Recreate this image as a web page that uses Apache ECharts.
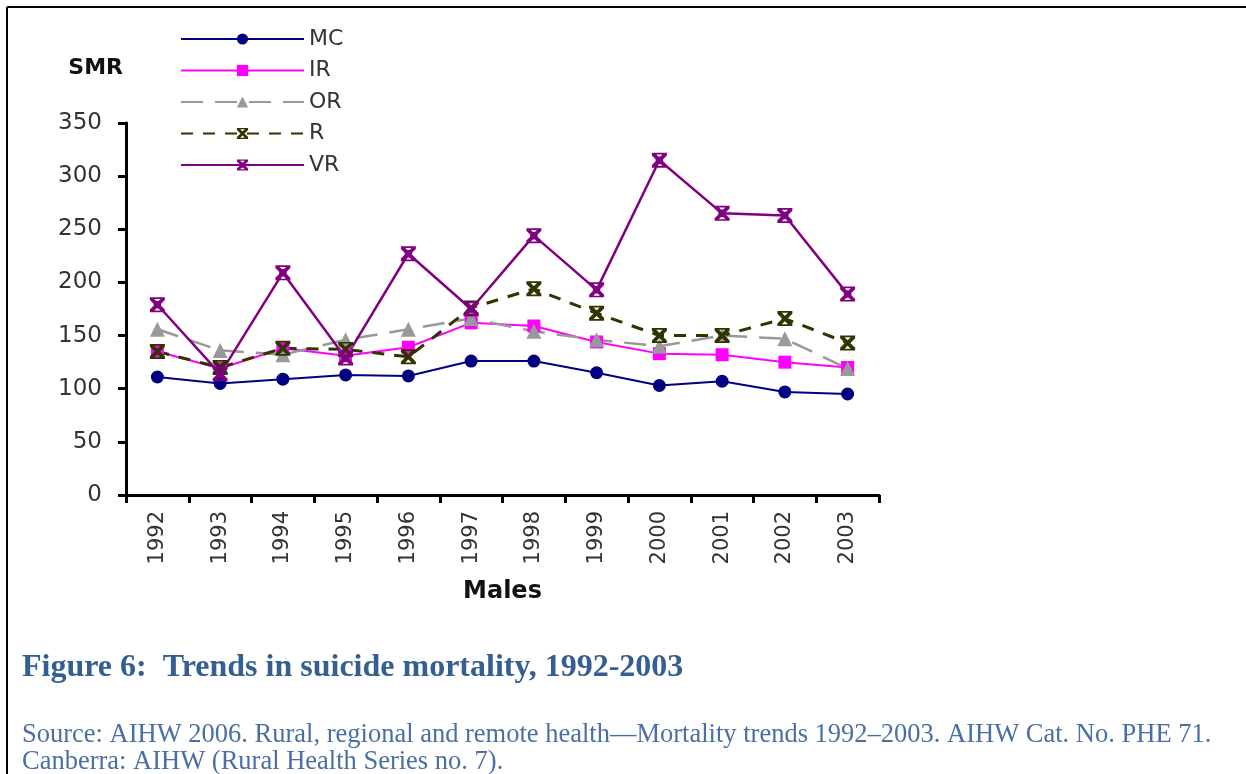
<!DOCTYPE html>
<html>
<head>
<meta charset="utf-8">
<script src="https://cdn.jsdelivr.net/npm/echarts@6/dist/echarts.min.js"></script>
<style>
  html, body { margin: 0; padding: 0; background: #fff; }
  #chart { width: 1246px; height: 774px; }
</style>
</head>
<body>
<div id="chart"></div>
<script>
// data (SMR, males)
var years = ['1992', '1993', '1994', '1995', '1996', '1997', '1998', '1999', '2000', '2001', '2002', '2003'];
var mcVals = [111, 105, 109, 113, 112, 126, 126, 115, 103, 107, 97, 95];
var irVals = [135, 119, 138, 131, 139, 162, 159, 144, 133, 132, 125, 120];
var orVals = [156, 136, 132, 146, 156, 166, 154, 146, 140, 150, 147, 119];
var rVals = [135, 120, 138, 137, 130, 176, 194, 171, 150, 150, 166, 143];
var vrVals = [179, 114, 209, 129, 227, 175, 244, 193, 315, 265, 263, 189];
var yTicks = [0, 50, 100, 150, 200, 250, 300, 350];

// x with caps, and the same with a filled square in the middle
var crossPath = 'path://M0,0 L2.5,0 L14,11.5 L14,14 L11.5,14 L0,2.5 Z M11.5,0 L14,0 L14,2.5 L2.5,14 L0,14 L0,11.5 Z M1,0 L13,0 L13,1.6 L1,1.6 Z M1,12.4 L13,12.4 L13,14 L1,14 Z';
var boxCrossPath = crossPath + ' M3.5,3.5 L10.5,3.5 L10.5,10.5 L3.5,10.5 Z';

var chart = echarts.init(document.getElementById('chart'));

function lineSeries(name, data, color, width, dash, symbol, size) {
  return {
    name: name,
    type: 'line',
    data: data,
    symbol: symbol,
    symbolSize: size,
    showAllSymbol: true,
    lineStyle: { color: color, width: width, type: dash },
    itemStyle: { color: color, borderWidth: 0 },
    emphasis: { disabled: true },
    animation: false
  };
}

var option = {
  backgroundColor: '#fff',
  animation: false,
  grid: { left: 126, right: 367, top: 123, bottom: 279, containLabel: false },
  legend: {
    orient: 'vertical',
    left: 180,
    top: 28,
    padding: 0,
    itemWidth: 123,
    itemHeight: 14,
    itemGap: 9.5,
    textStyle: { fontFamily: 'DejaVu Sans', fontSize: 22, lineHeight: 22, color: '#333' },
    data: ['MC', 'IR', 'OR', 'R', 'VR']
  },
  xAxis: {
    type: 'category',
    data: years,
    boundaryGap: true,
    name: 'Males',
    nameLocation: 'middle',
    nameGap: 97,
    nameTextStyle: { fontFamily: 'DejaVu Sans', fontWeight: 'bold', fontSize: 24, color: '#111', verticalAlign: 'middle' },
    axisLine: { lineStyle: { color: '#000', width: 3 } },
    axisTick: { show: true, length: 8, inside: false, alignWithLabel: false, lineStyle: { color: '#000', width: 3 } },
    axisLabel: { rotate: 90, margin: 16, fontFamily: 'DejaVu Sans', fontSize: 21, color: '#333' },
    splitLine: { show: false }
  },
  yAxis: {
    type: 'value',
    min: yTicks[0],
    max: yTicks[yTicks.length - 1],
    interval: 50,
    name: 'SMR',
    nameLocation: 'end',
    nameGap: 55,
    nameTextStyle: { fontFamily: 'DejaVu Sans', fontWeight: 'bold', fontSize: 22, color: '#111', align: 'right', verticalAlign: 'middle', padding: [0, 3, 0, 0] },
    axisLine: { show: true, lineStyle: { color: '#000', width: 3 } },
    axisTick: { show: true, length: 8, lineStyle: { color: '#000', width: 3 } },
    axisLabel: { margin: 24, fontFamily: 'DejaVu Sans', fontSize: 23, color: '#333' },
    splitLine: { show: false }
  },
  series: [
    lineSeries('MC', mcVals, '#000080', 2, 'solid', 'circle', 13),
    lineSeries('IR', irVals, '#ff00ff', 2, 'solid', 'rect', 13),
    lineSeries('OR', orVals, '#999999', 2.5, [22, 12], 'triangle', 15),
    lineSeries('R', rVals, '#333300', 3, [12, 10], crossPath, 15),
    lineSeries('VR', vrVals, '#800080', 2.5, 'solid', boxCrossPath, 15)
  ],
  graphic: [
    { type: 'line', shape: { x1: 7, y1: 7, x2: 1246, y2: 7 }, style: { stroke: '#000', lineWidth: 2 }, silent: true },
    { type: 'line', shape: { x1: 7, y1: 7, x2: 7, y2: 774 }, style: { stroke: '#000', lineWidth: 2 }, silent: true },
    {
      type: 'text', left: 22, top: 652, silent: true,
      style: { text: 'Figure 6:  Trends in suicide mortality, 1992-2003', font: 'bold 32px "Liberation Serif"', fill: '#365f91' }
    },
    {
      type: 'text', left: 22, top: 722, silent: true,
      style: {
        text: 'Source: AIHW 2006. Rural, regional and remote health\u2014Mortality trends 1992\u20132003. AIHW Cat. No. PHE 71.\nCanberra: AIHW (Rural Health Series no. 7).',
        font: '26.5px "Liberation Serif"', lineHeight: 27, fill: '#4a6fa5'
      }
    }
  ]
};

chart.setOption(option);
</script>
</body>
</html>
